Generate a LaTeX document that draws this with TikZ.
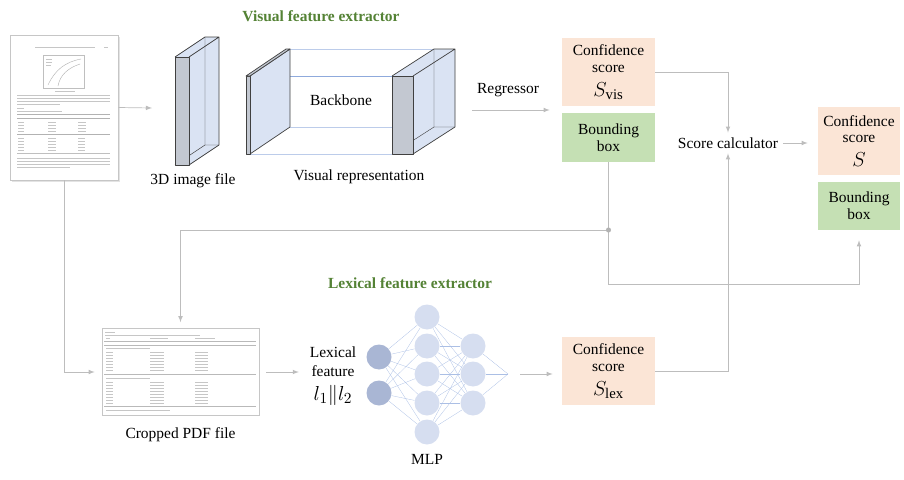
\documentclass[tikz,border=0pt]{standalone}
\usepackage{fontspec}
\setmainfont{Liberation Serif}
\usetikzlibrary{positioning}
\usetikzlibrary{calc}

\definecolor{scorepink}{HTML}{FBE5D6}
\definecolor{boxgreen}{HTML}{C5E0B4}
\definecolor{titlegreen}{HTML}{548235}
\definecolor{slabblue}{HTML}{DAE3F3}
\definecolor{slabgray}{HTML}{C3C8D1}
\definecolor{neuronblue}{HTML}{D6DEF0}
\definecolor{inputblue}{HTML}{A9B6D4}
\definecolor{wireblue}{HTML}{8FAADC}
\definecolor{linegray}{HTML}{BDBDBD}

\newcommand{\bigmath}[1]{{\fontsize{15}{16}\selectfont$#1$}}

\begin{document}
\begin{tikzpicture}[x=0.25mm,y=-0.25mm,
    every node/.style={font=\fontsize{11}{12}\selectfont},
    score/.style={fill=scorepink, align=center, minimum width=23.25mm, minimum height=17mm, inner sep=1pt},
    bbox/.style={fill=boxgreen, align=center, minimum width=23.25mm, minimum height=12.25mm, inner sep=1pt},
    title/.style={font=\fontsize{11}{12}\selectfont\bfseries, text=titlegreen},
    arr/.style={draw=linegray, line width=0.5pt, -latex},
    wire/.style={draw=linegray, line width=0.5pt},
    neuron/.style={circle, fill=neuronblue, minimum size=6.25mm, inner sep=0pt},
    inneuron/.style={neuron, fill=inputblue},
    edge/.style={draw=wireblue!75, line width=0.2pt},
    doc/.style={draw=gray!45, fill=white, line width=0.4pt, inner sep=0pt},
    txt/.style={draw=gray!45, line width=0.35pt},
    slab/.style={draw=black!75, line width=0.5pt, line join=round},
    ray/.style={draw=wireblue!60, line width=0.4pt}
]
\useasboundingbox (0,0) rectangle (904,480);

% page
\fill[gray!22] (12,37) rectangle (120,182);
\node[doc, minimum width=27mm, minimum height=36.25mm] (page) at (64,107.5) {};
\draw[txt] (35,47) -- (95,47) (104,47) -- (108,47);
\draw[gray!50, line width=0.25pt] (43,55) rectangle (84,88);
\draw[gray!60, line width=0.3pt] (48,85) .. controls (55,70) and (65,62) .. (81,59);
\draw[gray!60, line width=0.3pt] (58,86) .. controls (60,75) and (68,68) .. (80,64);
\draw[txt] (46,59) -- (52,59) (46,62) -- (52,62) (46,65) -- (51,65) (55,91) -- (75,91);
\foreach \y in {95,98,101} \draw[txt] (17,\y) -- (110,\y);
\draw[txt] (17,104) -- (60,104);
\draw[txt] (17,108) -- (24,108) (17,111) -- (62,111);
\draw[gray!60, line width=0.3pt] (17,114) -- (110,114) (17,118) -- (110,118);
\foreach \y in {122,125,...,131} \draw[txt] (18,\y) -- (24,\y) (48,\y) -- (56,\y) (78,\y) -- (86,\y);
\draw[gray!60, line width=0.7pt] (17,134) -- (110,134);
\foreach \y in {138,141,...,150} \draw[txt] (18,\y) -- (24,\y) (48,\y) -- (56,\y) (78,\y) -- (85,\y);
\draw[gray!50, line width=0.3pt] (17,153) -- (110,153);
\foreach \y in {158,161,164} \draw[txt] (17,\y) -- (110,\y);
\draw[txt] (17,167) -- (70,167);

% 3D image file
\coordinate (imgin) at (152,108);
\draw[arr] (page.east) -- (imgin);
\fill[slabblue] (189,57) -- (219,37) -- (219,145) -- (189,165) -- cycle;
\fill[slabblue] (175,57) -- (205,37) -- (219,37) -- (189,57) -- cycle;
\draw[slab, line width=0.3pt] (205,37) -- (205,145) -- (219,145) (205,145) -- (175,165);
\filldraw[slab, fill=slabgray] (175,57) rectangle (189,165);
\draw[slab] (175,57) -- (205,37) -- (219,37) -- (189,57) (219,37) -- (219,145) -- (189,165);
\node (imglabel) at (193,181) {3D image file};

% visual feature extractor
\node[title] (vistitle) at (321,16) {Visual feature extractor};
\draw[ray] (290,49) -- (434,49) (290,127) -- (434,127) (250,154) -- (392,154);
\draw[draw=wireblue, line width=0.5pt] (250,76) -- (392,76);
\filldraw[slab, fill=slabblue] (250,76) -- (290,49) -- (290,127) -- (250,154) -- cycle;
\filldraw[slab, fill=slabgray] (246,76) rectangle (250,154);
\filldraw[slab, fill=slabgray] (246,76) -- (286,49) -- (290,49) -- (250,76) -- cycle;
\node (backbone) at (341,100) {Backbone};
\fill[slabblue] (413,76) -- (455,49) -- (455,127) -- (413,154) -- cycle;
\fill[slabblue] (392,76) -- (434,49) -- (455,49) -- (413,76) -- cycle;
\draw[slab, line width=0.3pt] (434,49) -- (434,127) -- (455,127) (434,127) -- (392,154);
\filldraw[slab, fill=slabgray] (392,76) rectangle (413,154);
\draw[slab] (392,76) -- (434,49) -- (455,49) -- (413,76) (455,49) -- (455,127) -- (413,154);
\node (replabel) at (359,177) {Visual representation};

% scores
\node[score] (svis) at (608.5,72) {Confidence\\score\\[5pt]\bigmath{S_{\mathrm{vis}}}};
\node[bbox] (bbvis) at (608.5,137.5) {Bounding\\box};
\coordinate (repout) at (472,110);
\node (regr) at (508,90) {Regressor};
\draw[arr, shorten >=3mm] (repout) -- (repout -| svis.west);

\node (calc) at (728,143) {Score calculator};
\node[score, minimum width=20.5mm] (sfin) at (859,141) {Confidence\\score\\[5pt]\bigmath{S}};
\node[bbox, minimum width=20.5mm, minimum height=12mm] (bbfin) at (859,206) {Bounding\\box};
\draw[arr] (svis.east) -| (calc.north);
\draw[arr, shorten >=2.5mm] (calc.east) -- (calc.east -| sfin.west);

% cropped pdf
\node[doc, minimum width=39.25mm, minimum height=21.75mm] (cropped) at (180.5,372) {};
\draw[txt] (105,332) -- (115,332) (105,335) -- (200,335) (106,338) -- (110,338) (150,338) -- (168,338) (195,338) -- (215,338);
\draw[gray!55, line width=0.3pt] (104,341) -- (256,341) (104,345) -- (256,345);
\draw[txt] (106,348) -- (150,348);
\foreach \y in {352,355,...,370} \draw[txt] (106,\y) -- (113,\y) (150,\y) -- (164,\y) (195,\y) -- (208,\y);
\draw[gray!55, line width=0.5pt] (104,374) -- (256,374);
\draw[txt] (106,378) -- (150,378);
\foreach \y in {382,385,...,403} \draw[txt] (106,\y) -- (113,\y) (150,\y) -- (164,\y) (195,\y) -- (208,\y);
\draw[gray!55, line width=0.3pt] (104,406) -- (256,406);
\draw[txt] (106,410) -- (170,410);
\node[below=1.6mm of cropped] (croplabel) {Cropped PDF file};

\coordinate (split) at (608.5,230);
\coordinate (merge) at (608.5,284);
\draw[wire] (bbvis.south) -- (split);
\draw[arr, shorten >=1.5mm] (split) -| (cropped.north);
\draw[arr, shorten >=2.5mm] (split) -- (merge) -| (bbfin.south);
\fill[gray!60] (split) circle (1.8pt);
\draw[arr, shorten >=1.75mm] (page.south) |- (cropped.west);

% lexical feature extractor
\node[title] (lextitle) at (410,283) {Lexical feature extractor};
\node[align=center, font=\fontsize{11}{14}\selectfont] (lex) at (333,376) {Lexical\\feature\\[3pt]\bigmath{l_1\Vert l_2}};
\draw[arr, shorten <=1.75mm, shorten >=1.5mm] (cropped.east) -- (cropped.east -| lex.west);

\foreach \i/\y in {1/357,2/393} \node[inneuron] (in\i) at (379,\y) {};
\foreach \i/\y in {1/317,2/346,3/374,4/403,5/432} \node[neuron] (ha\i) at (427,\y) {};
\foreach \i/\y in {1/346,2/374,3/403} \node[neuron] (hb\i) at (473,\y) {};
\coordinate (mlpout) at (508,374);
\foreach \a in {1,2} \foreach \b in {1,...,5} \draw[edge] (in\a) -- (ha\b);
\foreach \a in {1,...,5} \foreach \b in {1,2,3} \draw[edge] (ha\a) -- (hb\b);
\foreach \a in {1,2,3} \draw[edge] (hb\a) -- (mlpout);
\node[below=1.2mm of ha5] (mlplabel) {MLP};

\node[score] (slex) at (608.5,371) {Confidence\\score\\[5pt]\bigmath{S_{\mathrm{lex}}}};
\draw[arr, shorten <=3mm, shorten >=2.25mm] (mlpout) -- (mlpout -| slex.west);
\draw[arr] (slex.east) -| (calc.south);
\end{tikzpicture}
\end{document}
